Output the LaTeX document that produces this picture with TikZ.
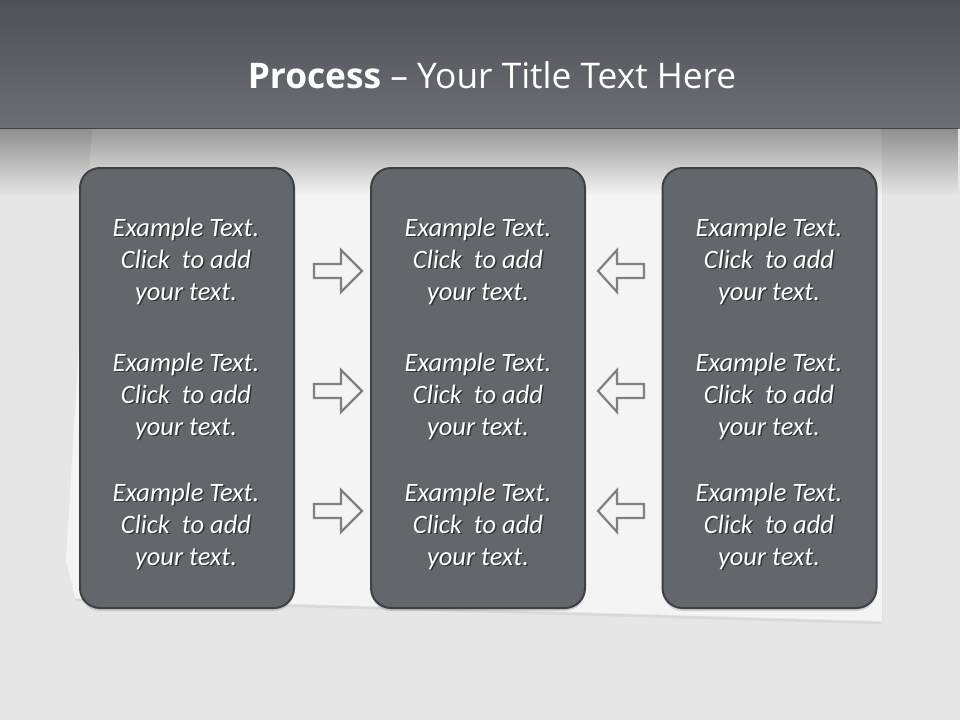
\documentclass[tikz,border=0pt]{standalone}
\usepackage{xcolor}
\usepackage{fontspec}
\setmainfont{Carlito}
\newfontfamily\titlefont{Open Sans}
\usepackage{tikz}
\usetikzlibrary{arrows, positioning, shadows, fadings}
\definecolor{bggray}{HTML}{E6E6E7}
\definecolor{topdark}{HTML}{4E5157}
\definecolor{topmid}{HTML}{6B6E75}
\definecolor{paperwhite}{HTML}{F4F4F5}
\definecolor{paneltone}{HTML}{63666B}
\definecolor{paneledge}{HTML}{3E4044}
\definecolor{arrowgray}{HTML}{808080}
\tikzfading[name=bandfade, top color=transparent!62, bottom color=transparent!100]
\newcommand{\sampletext}{Example Text.\\Click~~to add\\your text.}

\begin{document}
\begin{tikzpicture}[x=1pt, y=-1pt,
				panel/.style={draw=paneledge, line width=2pt, fill=paneltone, rounded corners=20pt,
					minimum width=214pt, minimum height=440pt, inner sep=0pt,
					drop shadow={shadow xshift=0pt, shadow yshift=-3pt, opacity=0.3}},
				itemtext/.style={text=white, font=\fontsize{26.5}{32}\selectfont\itshape, align=center, inner sep=0pt},
				itemshadow/.style={itemtext, text=black, opacity=0.5},
				arrowline/.style={draw=arrowgray, line width=2.2pt, fill=paperwhite, line join=miter},
				rarrow/.pic={\path[arrowline] (-24,-7) -- (3,-7) -- (3,-21) -- (24,0) -- (3,21) -- (3,7) -- (-24,7) -- cycle;},
				larrow/.pic={\path[arrowline] (23,-7) -- (-4,-7) -- (-4,-21) -- (-23,0) -- (-4,21) -- (-4,7) -- (23,7) -- cycle;}]
				\useasboundingbox (0,0) rectangle (960,720);
				% background and paper sheet
				\fill[bggray] (0,0) rectangle (960,720);
				\fill[paperwhite] (92,128) -- (882,128) -- (882,621) -- (300,604) -- (75,598) -- (66,560) -- cycle;
				\draw[black!15, line width=2.5pt] (882,623) -- (300,606) -- (75,600);
				\draw[black!12, line width=1pt] (882,128) -- (882,621);
				\shade[top color=topdark, bottom color=topmid] (0,0) rectangle (960,128);
				\fill[black, path fading=bandfade] (0,128) rectangle (960,195);
				\node at (492,75) (title) [text=white, font=\titlefont\fontsize{35.3}{40}\selectfont] {\textbf{Process} – Your Title Text Here};
				% panels
				\node at (187,388) (left) [panel] {};
				\node at (478,388) (middle) [panel] {};
				\node at (769.5,388) (right) [panel] {};
				% texts
				\node at (187.5,262.5) (l1s) [itemshadow] {\sampletext};
				\node at (187.5,397.5) (l2s) [itemshadow] {\sampletext};
				\node at (187.5,527.5) (l3s) [itemshadow] {\sampletext};
				\node at (479.5,262.5) (m1s) [itemshadow] {\sampletext};
				\node at (479.5,397.5) (m2s) [itemshadow] {\sampletext};
				\node at (479.5,527.5) (m3s) [itemshadow] {\sampletext};
				\node at (770.5,262.5) (r1s) [itemshadow] {\sampletext};
				\node at (770.5,397.5) (r2s) [itemshadow] {\sampletext};
				\node at (770.5,527.5) (r3s) [itemshadow] {\sampletext};
				\node at (186,261) (l1) [itemtext] {\sampletext};
				\node at (186,396) (l2) [itemtext] {\sampletext};
				\node at (186,526) (l3) [itemtext] {\sampletext};
				\node at (478,261) (m1) [itemtext] {\sampletext};
				\node at (478,396) (m2) [itemtext] {\sampletext};
				\node at (478,526) (m3) [itemtext] {\sampletext};
				\node at (769,261) (r1) [itemtext] {\sampletext};
				\node at (769,396) (r2) [itemtext] {\sampletext};
				\node at (769,526) (r3) [itemtext] {\sampletext};
				% arrows
				\pic (ra1) at (338,271) {rarrow};
				\pic (ra2) at (338,391) {rarrow};
				\pic (ra3) at (338,511) {rarrow};
				\pic (la1) at (621,271) {larrow};
				\pic (la2) at (621,391) {larrow};
				\pic (la3) at (621,511) {larrow};
			\end{tikzpicture}
\end{document}
